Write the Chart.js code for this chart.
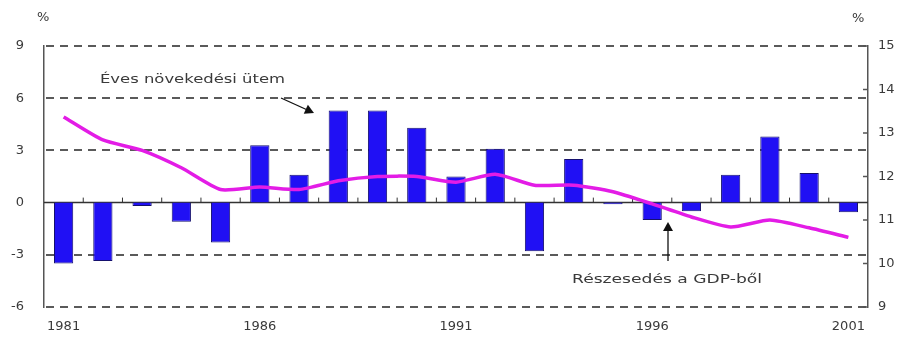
<!DOCTYPE html>
<html>
<head>
<meta charset="utf-8">
<script src="https://cdn.jsdelivr.net/npm/chart.js@4.4.0/dist/chart.umd.min.js"></script>
<style>
  html, body { margin: 0; padding: 0; background: #fff; }
  #wrap { position: relative; width: 901px; height: 347px; }
</style>
</head>
<body>
<div id="wrap"><canvas id="chart"></canvas></div>
<script>
/* ---------- Data ---------- */
const years = ['1981', '1982', '1983', '1984', '1985', '1986', '1987', '1988', '1989', '1990',
  '1991', '1992', '1993', '1994', '1995', '1996', '1997', '1998', '1999', '2000', '2001'];

// annual growth rate, % (left axis, bars)
const growthRate = [-3.5, -3.35, -0.2, -1.1, -2.3, 3.3, 1.6, 5.3, 5.3, 4.3,
  1.5, 3.1, -2.8, 2.5, -0.1, -1.0, -0.5, 1.6, 3.8, 1.7, -0.55];

// share of GDP, % (right axis, line)
const gdpShare = [13.37, 12.84, 12.6, 12.2, 11.7, 11.76, 11.7, 11.9, 12.0, 12.0,
  11.87, 12.05, 11.8, 11.8, 11.65, 11.37, 11.07, 10.84, 11.0, 10.82, 10.6];

const leftTicks = [-6, -3, 0, 3, 6, 9];
const rightTicks = [9, 10, 11, 12, 13, 14, 15];
const shownYears = ['1981', '1986', '1991', '1996', '2001'];

const labelGrowth = 'Éves növekedési ütem';
const labelShare = 'Részesedés a GDP-ből';

/* ---------- Styles ---------- */
const TEXT = '#3a3a3a';
const AXIS = '#555';
const FONT = "'DejaVu Sans', Arial, sans-serif";

/* ---------- Helpers ---------- */
function arrow(ctx, x1, y1, x2, y2) {
  const a = Math.atan2(y2 - y1, x2 - x1);
  const len = 9, w = 5;
  ctx.beginPath();
  ctx.moveTo(x1, y1);
  ctx.lineTo(x2 - Math.cos(a) * len * 0.6, y2 - Math.sin(a) * len * 0.6);
  ctx.stroke();
  ctx.beginPath();
  ctx.moveTo(x2, y2);
  ctx.lineTo(x2 - Math.cos(a) * len + Math.sin(a) * w, y2 - Math.sin(a) * len - Math.cos(a) * w);
  ctx.lineTo(x2 - Math.cos(a) * len - Math.sin(a) * w, y2 - Math.sin(a) * len + Math.cos(a) * w);
  ctx.closePath();
  ctx.fill();
}

function stretchText(ctx, txt, x, y, width) {
  const m = ctx.measureText(txt).width;
  ctx.save();
  ctx.translate(x, y);
  ctx.scale(width / m, 1);
  ctx.fillText(txt, 0, 0);
  ctx.restore();
}

// dashed horizontal line drawn as separate rects (crisp dashes)
function dashRow(ctx, x1, x2, py, dash, gap) {
  for (let px = x1; px < x2; px += dash + gap) {
    ctx.fillRect(px, py - 1, Math.min(dash, x2 - px), 2);
  }
}

/* ---------- Decorations plugin ---------- */
const decor = {
  id: 'decor',
  beforeDatasetsDraw(chart) {
    const { ctx, chartArea: a, scales: { x, y, y1 } } = chart;
    ctx.save();
    // dashed horizontal grid
    ctx.fillStyle = '#5a5a5a';
    leftTicks.filter(v => v !== 0).forEach(v => {
      dashRow(ctx, a.left + 2, a.right, Math.round(y.getPixelForValue(v)), 8, 6);
    });
    // zero line
    const y0 = y.getPixelForValue(0);
    ctx.strokeStyle = '#333';
    ctx.lineWidth = 1.5;
    ctx.beginPath();
    ctx.moveTo(a.left, y0);
    ctx.lineTo(a.right, y0);
    ctx.stroke();
    // small ticks between categories on the zero line
    ctx.lineWidth = 1;
    for (let i = 1; i < years.length; i++) {
      const px = (x.getPixelForValue(i - 1) + x.getPixelForValue(i)) / 2;
      ctx.beginPath();
      ctx.moveTo(px, y0);
      ctx.lineTo(px, y0 - 5);
      ctx.stroke();
    }
    // inward ticks on the right axis
    ctx.strokeStyle = AXIS;
    ctx.lineWidth = 1.5;
    rightTicks.forEach(v => {
      const py = y1.getPixelForValue(v);
      ctx.beginPath();
      ctx.moveTo(a.right, py);
      ctx.lineTo(a.right - 5, py);
      ctx.stroke();
    });
    ctx.restore();
  },
  afterDatasetsDraw(chart) {
    const { ctx } = chart;
    ctx.save();
    ctx.fillStyle = TEXT;
    ctx.font = '13px ' + FONT;
    ctx.textBaseline = 'middle';
    ctx.textAlign = 'left';
    ctx.fillText('%', 37, 18);
    ctx.fillText('%', 852, 19);
    stretchText(ctx, labelGrowth, 100, 80, 185);
    stretchText(ctx, labelShare, 572, 280, 190);
    ctx.strokeStyle = '#111';
    ctx.fillStyle = '#111';
    ctx.lineWidth = 1.3;
    arrow(ctx, 281, 98, 314, 113);
    arrow(ctx, 668, 261, 668, 222);
    ctx.restore();
  }
};

/* ---------- Chart ---------- */
new Chart(document.getElementById('chart'), {
  data: {
    labels: years,
    datasets: [
      {
        type: 'line',
        label: labelShare,
        data: gdpShare,
        yAxisID: 'y1',
        borderColor: '#e31ce6',
        borderWidth: 3.5,
        pointRadius: 0,
        tension: 0.2,
        order: 0
      },
      {
        type: 'bar',
        label: labelGrowth,
        data: growthRate,
        yAxisID: 'y',
        backgroundColor: '#2010f4',
        borderColor: '#15106e',
        borderWidth: 1,
        barPercentage: 0.49,
        categoryPercentage: 1,
        order: 1
      }
    ]
  },
  options: {
    responsive: true,
    maintainAspectRatio: false,
    animation: false,
    layout: { padding: { top: 46, left: 0, right: 0, bottom: 0 } },
    plugins: { legend: { display: false }, tooltip: { enabled: false } },
    scales: {
      x: {
        offset: true,
        grid: { display: false, drawTicks: false },
        border: { display: false },
        ticks: {
          autoSkip: false,
          maxRotation: 0,
          padding: 12,
          color: TEXT,
          font: { family: FONT, size: 13 },
          callback: (v, i) => shownYears.includes(years[i]) ? years[i] : ''
        },
        afterFit: s => { s.height = 40; }
      },
      y: {
        position: 'left',
        min: -6,
        max: 9,
        afterBuildTicks: s => { s.ticks = leftTicks.map(v => ({ value: v })); },
        grid: { display: false, drawTicks: false },
        border: { display: true, color: AXIS, width: 1.5 },
        ticks: { padding: 20, color: TEXT, font: { family: FONT, size: 13 } },
        afterFit: s => { s.width = 44; }
      },
      y1: {
        position: 'right',
        min: 9,
        max: 15,
        afterBuildTicks: s => { s.ticks = rightTicks.map(v => ({ value: v })); },
        grid: { display: false, drawTicks: false },
        border: { display: true, color: AXIS, width: 1.5 },
        ticks: { padding: 10, color: TEXT, font: { family: FONT, size: 13 } },
        afterFit: s => { s.width = 33; }
      }
    }
  },
  plugins: [decor]
});
</script>
</body>
</html>
